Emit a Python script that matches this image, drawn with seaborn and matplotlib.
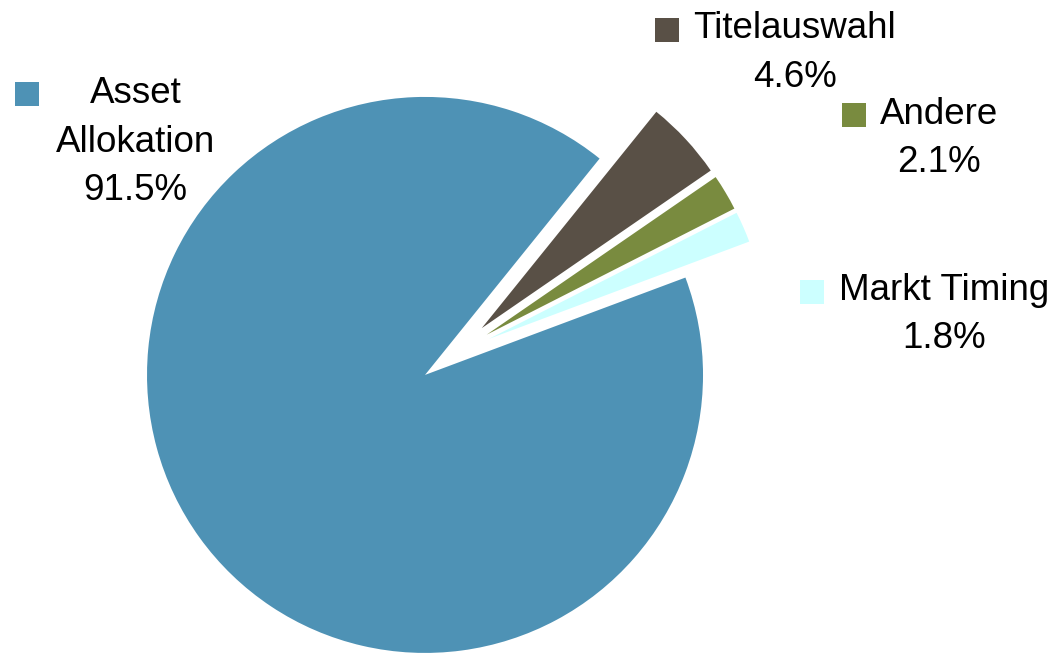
import matplotlib
matplotlib.use("Agg")
import matplotlib.pyplot as plt
import seaborn as sns

# Shares of return variation explained by each source
categories = ["Asset Allokation", "Titelauswahl", "Andere", "Markt Timing"]
label_lines = [["Asset", "Allokation"], ["Titelauswahl"], ["Andere"], ["Markt Timing"]]
shares = [91.5, 4.6, 2.1, 1.8]
colors = ["#4E92B5", "#595046", "#798B3F", "#CCFFFF"]

sns.set_theme(style="white")
plt.rcParams["font.family"] = ["Liberation Sans", "DejaVu Sans"]

W, H, DPI = 1059, 654, 100
fig = plt.figure(figsize=(W / DPI, H / DPI), dpi=DPI)
ax = fig.add_axes([0, 0, 1, 1])

# pie geometry (pixels): radius and centre of the unexploded pie
r_px, cx, cy = 278.0, 453.2, 354.6
explode = [0.125, 0.14, 0.14, 0.14]

ax.pie(shares, colors=colors, explode=explode, startangle=20.5,
       counterclock=False, radius=1.0,
       wedgeprops=dict(linewidth=0, antialiased=True))
ax.set_aspect("auto")
ax.set_xlim(-cx / r_px, (W - cx) / r_px)
ax.set_ylim(-(H - cy) / r_px, cy / r_px)
ax.axis("off")

# label placement in pixels: text centre x, first baseline y, key square (x, y)
label_pos = [
    (135.5, 103.3, (15, 82)),
    (794.5, 38.3, (655, 18)),
    (939.0, 124.0, (842, 103)),
    (944.0, 300.0, (800, 280)),
]
line_step = 48.4
fs = 26.5
key = 24

for lines, val, col, (tx, ty, (kx, ky)) in zip(label_lines, shares, colors, label_pos):
    rows = lines + [f"{val:.1f}%"]
    for i, row in enumerate(rows):
        fig.text(tx / W, 1 - (ty + i * line_step) / H, row, ha="center",
                 va="baseline", fontsize=fs, color="black")
    fig.patches.append(plt.Rectangle((kx / W, 1 - (ky + key) / H), key / W, key / H,
                                     transform=fig.transFigure, facecolor=col,
                                     edgecolor="none"))

fig.savefig("out.png", dpi=DPI)
